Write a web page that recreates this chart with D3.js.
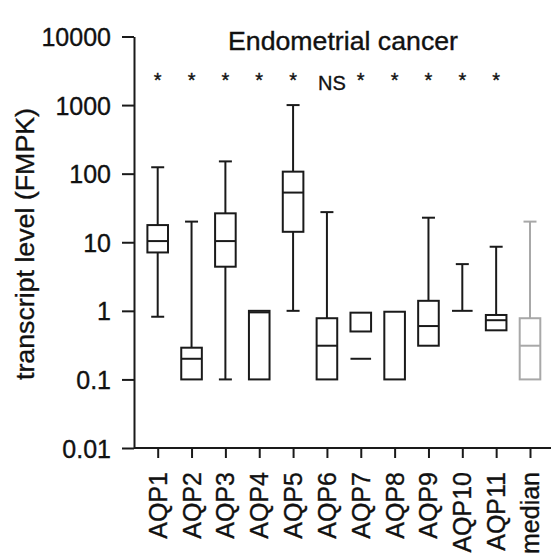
<!DOCTYPE html>
<html>
<head>
<meta charset="utf-8">
<script src="https://cdn.jsdelivr.net/npm/d3@7"></script>
<style>
  html, body { margin: 0; padding: 0; background: #fff; }
  svg { display: block; font-family: "Liberation Sans", Arial, sans-serif; }
  svg text { stroke: #111; stroke-width: 0.35px; }
</style>
</head>
<body>
<svg id="chart" width="551" height="558"></svg>
<script>
// Transcript levels (FMPK) per aquaporin, box-and-whisker summaries
const categories = ["AQP1", "AQP2", "AQP3", "AQP4", "AQP5", "AQP6", "AQP7", "AQP8", "AQP9", "AQP10", "AQP11", "median"];
const whiskerLow = [0.82, 0.1, 0.1, 0.1, 1, 0.1, 0.5, 0.1, 0.31, 1, 0.52, 0.1];
const quartile1 = [7.1, 0.1, 4.4, 0.1, 14.2, 0.1, 0.5, 0.1, 0.31, 1, 0.52, 0.1];
const medians = [10.4, 0.2, 10.4, 0.95, 53, 0.31, 0.2, 0.1, 0.6, 1, 0.73, 0.31];
const quartile3 = [17.8, 0.29, 26.4, 1, 107, 0.78, 0.94, 0.97, 1.4, 1, 0.87, 0.78];
const whiskerHigh = [124, 20, 151, 1, 1000, 27.5, 0.94, 0.97, 22.8, 4.8, 8.6, 20];
const significance = ["*", "*", "*", "*", "*", "NS", "*", "*", "*", "*", "*", ""];
const yTicks = [0.01, 0.1, 1, 10, 100, 1000, 10000];
const yTickLabels = ["0.01", "0.1", "1", "10", "100", "1000", "10000"];

const rows = categories.map((c, i) => ({
  name: c, lo: whiskerLow[i], q1: quartile1[i], med: medians[i],
  q3: quartile3[i], hi: whiskerHigh[i], sig: significance[i]
}));

const svg = d3.select("#chart");
const plotLeft = 134, plotRight = 551, plotTop = 36.5, plotBottom = 448;

const y = d3.scaleLog().domain([0.01, 10000]).range([plotBottom, plotTop]);
const x = d3.scalePoint().domain(categories).range([157.7, 530]);

const boxW = 20.6, capW = 13;
const ink = "#1a1a1a", grey = "#a8a8a8";

// Y axis
const yAxis = d3.axisLeft(y).tickValues(yTicks)
  .tickFormat((d, i) => yTickLabels[i]).tickSize(12).tickPadding(11).tickSizeOuter(0);
const gy = svg.append("g").attr("transform", `translate(${plotLeft},0)`).call(yAxis);
gy.select(".domain").attr("stroke", ink).attr("stroke-width", 2);
gy.selectAll(".tick line").attr("stroke", ink).attr("stroke-width", 2);
gy.selectAll(".tick text").attr("fill", "#111").style("font-size", "25px")
  .attr("dy", "0.36em");

// X axis
const xAxis = d3.axisBottom(x).tickSize(10).tickSizeOuter(0).tickFormat("");
const gx = svg.append("g").attr("transform", `translate(0,${plotBottom})`).call(xAxis);
gx.select(".domain").attr("d", `M${plotLeft},0H${plotRight}`).attr("stroke", ink).attr("stroke-width", 2);
gx.selectAll(".tick line").attr("stroke", ink).attr("stroke-width", 2);

// Rotated category labels
svg.append("g").selectAll("text").data(categories).join("text")
  .attr("transform", d => `translate(${x(d)},472) rotate(-90)`)
  .attr("text-anchor", "end")
  .attr("dy", "0.36em")
  .style("font-size", "25px")
  .attr("fill", "#111")
  .text(d => d);

// Boxes
const g = svg.append("g").attr("fill", "none").attr("stroke-width", 2);
const box = g.selectAll("g").data(rows).join("g")
  .attr("stroke", d => d.name === "median" ? grey : ink);

// upper whisker
box.filter(d => d.hi > d.q3).append("line")
  .attr("x1", d => x(d.name)).attr("x2", d => x(d.name))
  .attr("y1", d => y(d.q3)).attr("y2", d => y(d.hi));
box.filter(d => d.hi > d.q3).append("line")
  .attr("x1", d => x(d.name) - capW / 2).attr("x2", d => x(d.name) + capW / 2)
  .attr("y1", d => y(d.hi)).attr("y2", d => y(d.hi));
// lower whisker
box.filter(d => d.lo < d.q1).append("line")
  .attr("x1", d => x(d.name)).attr("x2", d => x(d.name))
  .attr("y1", d => y(d.q1)).attr("y2", d => y(d.lo));
box.filter(d => d.lo < d.q1).append("line")
  .attr("x1", d => x(d.name) - capW / 2).attr("x2", d => x(d.name) + capW / 2)
  .attr("y1", d => y(d.lo)).attr("y2", d => y(d.lo));
// interquartile box
box.filter(d => d.q3 > d.q1).append("rect")
  .attr("x", d => x(d.name) - boxW / 2).attr("width", boxW)
  .attr("y", d => y(d.q3)).attr("height", d => y(d.q1) - y(d.q3))
  .attr("fill", "#fff");
// median line (a collapsed box is drawn as this line alone)
box.filter(d => d.q3 === d.q1 || (d.med !== d.q1 && d.med !== d.q3)).append("line")
  .attr("x1", d => x(d.name) - boxW / 2).attr("x2", d => x(d.name) + boxW / 2)
  .attr("y1", d => y(d.med)).attr("y2", d => y(d.med));

// Significance marks
svg.append("g").selectAll("text").data(rows.filter(d => d.sig)).join("text")
  .attr("x", d => x(d.name) + (d.sig === "NS" ? 5 : 0))
  .attr("y", d => d.sig === "NS" ? 90 : 87)
  .attr("text-anchor", "middle")
  .style("font-size", "20px")
  .attr("fill", "#111")
  .text(d => d.sig);

// Title
svg.append("text").attr("x", 343).attr("y", 50)
  .attr("text-anchor", "middle").style("font-size", "25px").attr("fill", "#111")
  .attr("textLength", 230).attr("lengthAdjust", "spacingAndGlyphs")
  .text("Endometrial cancer");

// Y axis title
svg.append("text")
  .attr("transform", `translate(34,244) rotate(-90)`)
  .attr("text-anchor", "middle").style("font-size", "25px").attr("fill", "#111")
  .attr("textLength", 272).attr("lengthAdjust", "spacingAndGlyphs")
  .text("transcript level (FMPK)");
</script>
</body>
</html>
